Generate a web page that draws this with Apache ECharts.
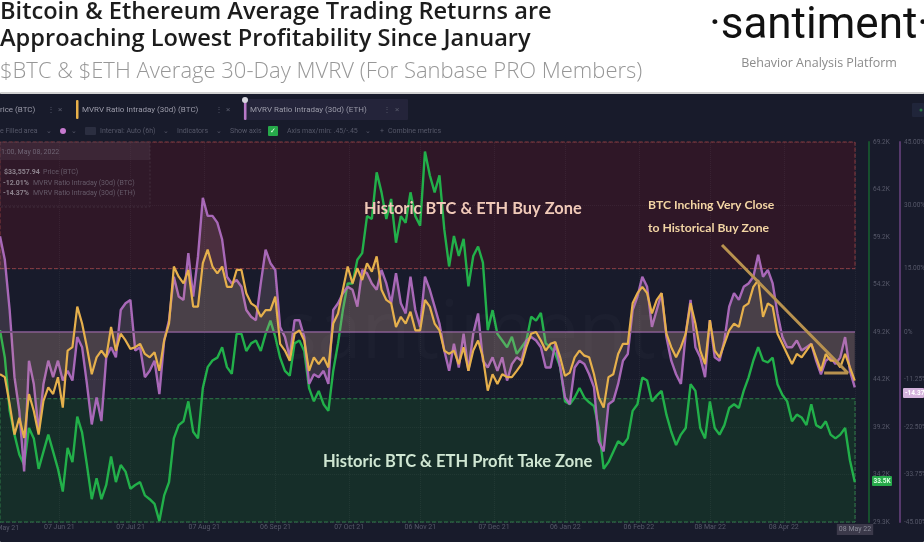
<!DOCTYPE html>
<html>
<head>
<meta charset="utf-8">
<title>Bitcoin & Ethereum MVRV</title>
<script src="https://cdn.jsdelivr.net/npm/echarts@6/dist/echarts.min.js"></script>
<style>
html, body { margin: 0; padding: 0; background: #fff; }
#chart { width: 924px; height: 542px; filter: blur(0.4px); }
</style>
</head>
<body>
<div id="chart"></div>
<script>
// one sample every 48.8h, starting at startDate
var startDate = '2021-05-13';
var endDate = '2022-05-08';
var sampleHours = 48.8;

// price (BTC), in thousands of dollars
var priceBtc = [
    49.4, 46.5, 40.9, 38.4, 36.3, 35.2, 39.1, 38.0, 34.8, 36.6, 38.4, 36.6, 34.8, 32.4, 37.0, 35.5, 40.3, 38.6, 35.2, 31.6,
    33.8, 31.6, 33.1, 36.1, 33.4, 35.2, 34.5, 32.7, 33.1, 33.4, 32.0, 31.6, 31.1, 29.3, 32.0, 33.4, 38.0, 39.4, 39.8, 41.9,
    38.7, 38.0, 43.3, 45.5, 46.2, 46.5, 47.6, 45.5, 44.8, 49.0, 49.0, 47.2, 48.0, 48.3, 47.2, 49.0, 50.4, 48.7, 46.5, 45.1,
    44.6, 48.0, 48.3, 47.2, 43.3, 41.9, 43.0, 41.6, 40.9, 45.1, 48.0, 51.5, 54.3, 54.3, 56.8, 57.5, 61.4, 61.1, 66.0, 63.9,
    61.1, 63.2, 58.6, 61.4, 60.7, 63.9, 61.4, 60.4, 68.2, 65.7, 63.9, 65.7, 60.0, 56.1, 59.3, 57.2, 59.0, 54.0, 57.2, 58.2,
    56.5, 49.4, 51.5, 49.0, 48.3, 47.6, 48.7, 46.9, 47.6, 48.3, 50.8, 50.4, 51.2, 48.0, 47.6, 46.9, 45.5, 41.9, 41.6, 42.3,
    43.3, 42.3, 41.8, 41.4, 39.1, 34.8, 35.5, 36.6, 37.7, 37.3, 38.0, 40.9, 41.6, 44.4, 44.1, 41.9, 42.5, 43.0, 40.5, 38.7,
    37.3, 38.4, 39.1, 43.7, 43.0, 39.1, 38.0, 41.9, 39.1, 38.4, 39.4, 41.2, 41.6, 41.2, 43.0, 44.4, 46.2, 47.6, 46.2, 46.0,
    46.5, 43.7, 42.6, 41.9, 39.8, 40.5, 40.2, 39.4, 41.6, 39.4, 39.1, 39.8, 38.4, 38.0, 38.4, 39.1, 35.7, 33.4
];

// MVRV intraday 30d (BTC), percent
var mvrvBtc = [
    -10, -10.7, -17.1, -24.3, -20.3, -25.1, -14.7, -18.7, -24.3, -16.3, -13.1, -14.7, -10.7, -17.9, -4.4, -3.6, 6, 2, -3.6, -10,
    -6, -4.4, -6, 1.2, -4.4, -0.4, -2, -4, -3.6, -2.8, -5.2, -6, -4.8, -9.2, -2, 2, 15.5, 13.1, 11.5, 14.7,
    6, 6, 16.3, 19.5, 15.5, 13.9, 15.5, 10.7, 10.7, 14.7, 14.7, 9.2, 6.8, 6, 3.6, 5.2, 5.2, 8.4, -2.8, -4.4,
    -6.8, -0.4, 0.4, -2, -9.2, -6, -7.6, -6, -8.4, 2, 4.4, 10, 15.5, 11.5, 15.1, 12.3, 16.3, 14.3, 17.9, 10,
    7.6, 6.8, 1.2, 3.6, 2, 4.8, 0.4, 0.4, 7.6, 6, 2, 0.4, -4.4, -5.2, -4.4, -7.6, -3.6, -9.2, -4.4, -2,
    -6, -13.9, -10, -12.3, -10, -10.7, -10.7, -9.2, -7.6, -3.6, -0.4, 0, -2, -4.4, -2.8, -2.4, -6, -10.4, -9.6, -6,
    -4.4, -5.6, -6, -10, -15.5, -17.9, -10.7, -10, -5.2, -2.8, -2.8, 6.8, 9.2, 10.7, 9.2, 4.4, 7.6, 9.2, -0.4, -3.6,
    -6, -3.6, -0.4, 6.8, 2, -4.4, -7.6, 2.8, -4.4, -6, -2.8, 0.4, 2, 1.2, 6, 6.8, 10.7, 12.3, 3.6, 6.8,
    6, -0.4, -2.8, -5.2, -7.6, -5.2, -6, -4.4, -2.8, -6, -9.2, -5.2, -6.8, -6.8, -8.4, -5.2, -8.4, -11.5
];

// MVRV intraday 30d (ETH), percent
var mvrvEth = [
    22.7, 17.1, 5.2, -10.7, -18.7, -33, -6.8, -12.3, -23.5, -12.3, -6.8, -10.7, -6.8, -11.5, -9.2, -11.5, -1.2, -3.6, -12.3, -21.9,
    -15.5, -21.1, -6, -3.6, -6, 5.2, 6.8, 7.6, -4.4, -3.6, -10.7, -9.2, -6.8, -14.7, -2, 2.8, 13.1, 8.4, 7.6, 18.7,
    8.4, 17.9, 31.8, 27.5, 27.5, 25.9, 21.9, 13.1, 11.5, 12.3, 10.7, 5.2, 3.6, 2.8, 11.5, 19.5, 16.3, 14.7, 1.2, -1.2,
    -6, 2.8, 2.8, -1.2, -12.3, -10, -10.7, -9.2, -12.3, 5.2, 6.8, 9.2, 10.7, 10, 6, 14.7, 13.9, 11.5, 10, 14.7,
    11.5, 6.8, 13.9, 6.8, 4.4, 13.1, 5.2, 1.2, 13.1, 10, 6, 2, -4.4, -9.2, -2.8, -8.4, -0.4, -9.2, -0.4, 4.4,
    -6.8, -8.4, -6, -9.2, -6, -11.5, -7.6, -6, -6.8, -2, -1.2, -2, -3.6, -8.4, -8.4, -2.8, -8.4, -15.5, -17.1, -8.4,
    -6.8, -7.6, -10, -13.1, -25.9, -28.3, -17.1, -16.3, -12.3, -6.8, -5.2, 5.2, 8.4, 13.1, 10.7, 1.2, 5.2, 9.2, -1.2, -6.8,
    -10, -12.3, -0.4, 7.6, -3.6, -6, -10.7, 2.8, -6, -6.8, -2, 6, 9.2, 7.6, 10.7, 11.5, 13.1, 18.3, 13.1, 14.7,
    11.5, 4.4, -1.2, -3.6, -3.6, -2, -4.4, -3.6, -2.8, -6.8, -10, -6.8, -6, -7.6, -6, -1.2, -9.2, -13.1
];

var xTickDates = ['2021-06-07', '2021-07-07', '2021-08-07', '2021-09-06', '2021-10-07', '2021-11-06', '2021-12-07', '2022-01-06', '2022-02-06', '2022-03-08', '2022-04-08', '2022-05-08'];
var xTickLabels = ['07 Jun 21', '07 Jul 21', '07 Aug 21', '06 Sep 21', '07 Oct 21', '06 Nov 21', '07 Dec 21', '06 Jan 22', '06 Feb 22', '08 Mar 22', '08 Apr 22', '08 May 22'];

var percentTicks = [45, 30, 15, 0, -11.25, -22.5, -33.75, -45];
var percentLabels = ['45.00%', '30.00%', '15.00%', '0%', '-11.25%', '-22.50%', '-33.75%', '-45.00%'];
var priceTicks = [69.2, 64.2, 59.2, 54.2, 49.2, 44.2, 39.2, 34.2, 29.2];
var priceLabels = ['69.2K', '64.2K', '59.2K', '54.2K', '49.2K', '44.2K', '39.2K', '34.2K', '29.3K'];

var buyZone = [15, 45];
var profitZone = [-45, -15.8];

var trendDates = ['2022-03-13', '2022-05-05', '2022-04-25'];
var trendValues = [20.6, -9.7, -9.7];

function toPairs(values) {
    var start = Date.parse(startDate);
    return values.map(function (v, i) {
        return [start + i * sampleHours * 3600000, v];
    });
}

var xTickTimes = xTickDates.map(function (d) { return Date.parse(d); });

// everything around the plot that is only text and chrome
function txt(x, y, text, font, color, align) {
    return {
        type: 'text', z: 100, silent: true,
        style: { x: x, y: y, text: text, font: font, fill: color, align: align || 'left', verticalAlign: 'middle' }
    };
}
function box(x, y, w, h, color, z, stroke) {
    return {
        type: 'rect', z: z === undefined ? 100 : z, silent: true,
        shape: { x: x, y: y, width: w, height: h, r: 1 },
        style: { fill: color, stroke: stroke || null, lineDash: stroke ? [2, 2] : null }
    };
}

var headFont = '600 23.6px "Open Sans"';
var smallFont = '7px Roboto';
var dim = '#565869';
var tab = '#9a9aa8';

var decorations = [
    // dark panel
    box(0, 93, 924, 449, '#181b2b', -10),
    box(0, 92, 924, 2, '#d0d0d0', -9),

    // header
    txt(0, 12, 'Bitcoin & Ethereum Average Trading Returns are', headFont, '#1c1c1c'),
    txt(0, 39, 'Approaching Lowest Profitability Since January', headFont, '#1c1c1c'),
    txt(0, 72, '$BTC & $ETH Average 30-Day MVRV (For Sanbase PRO Members)', '300 22px "Open Sans"', '#979797'),
    txt(819, 27, '·santiment·', '400 44px Roboto', '#111111', 'center'),
    txt(819, 63, 'Behavior Analysis Platform', '12.5px "Open Sans"', '#8b8b8b', 'center'),

    // tabs
    box(243, 99, 165, 21, '#24243a'),
    txt(0, 110, 'rice (BTC)', '8px Roboto', tab),
    txt(47, 110, '⋮', '8px Roboto', dim),
    txt(58, 110, '×', '8px Roboto', dim),
    box(76, 100, 2.5, 19, '#e8b04a'),
    txt(82, 110, 'MVRV Ratio Intraday (30d) (BTC)', '8px Roboto', tab),
    txt(215, 110, '⋮', '8px Roboto', dim),
    txt(226, 110, '×', '8px Roboto', dim),
    box(244, 100, 2.5, 20, '#b878c8'),
    { type: 'circle', z: 101, silent: true, shape: { cx: 245, cy: 100, r: 3 }, style: { fill: '#d8d8e0' } },
    txt(250, 110, 'MVRV Ratio Intraday (30d) (ETH)', '8px Roboto', tab),
    txt(383, 110, '⋮', '8px Roboto', dim),
    txt(395, 110, '×', '8px Roboto', dim),
    box(912, 103, 12, 14, '#20253a'),
    { type: 'circle', z: 101, silent: true, shape: { cx: 921, cy: 110, r: 1.5 }, style: { fill: '#2b7a45' } },

    // toolbar
    txt(0, 131, 'e Filled area', smallFont, dim),
    txt(46, 131, '⌄', smallFont, dim),
    { type: 'circle', z: 101, silent: true, shape: { cx: 63, cy: 131, r: 3 }, style: { fill: '#c77ad0' } },
    txt(71, 131, '⌄', smallFont, dim),
    box(85, 127, 11, 8, '#2b2e40'),
    txt(100, 131, 'Interval: Auto (6h)', smallFont, dim),
    txt(163, 131, '⌄', smallFont, dim),
    txt(177, 131, 'Indicators', smallFont, dim),
    txt(216, 131, '⌄', smallFont, dim),
    txt(230, 131, 'Show axis', smallFont, dim),
    box(268, 126, 10, 10, '#26a94a'),
    txt(270, 131, '✓', smallFont, '#e8ffe8'),
    txt(287, 131, 'Axis max/min: .45/-.45', smallFont, dim),
    txt(365, 131, '⌄', smallFont, dim),
    txt(380, 131, '+', smallFont, dim),
    txt(388, 131, 'Combine metrics', smallFont, dim),

    // hover box from the screenshot
    box(0, 142, 150, 65, 'rgba(60,42,58,0.12)', 60, '#43303f'),
    box(0, 142, 150, 18, 'rgba(90,70,85,0.3)', 60),
    txt(1, 152, '1:00, May 08, 2022', smallFont, '#6f6474'),
    txt(4, 172, '$33,557.94', 'bold 7px Roboto', '#8d838e'),
    txt(43, 172, 'Price (BTC)', smallFont, '#665a69'),
    txt(3, 183, '-12.01%', 'bold 7px Roboto', '#8d838e'),
    txt(33, 183, 'MVRV Ratio Intraday (30d) (BTC)', smallFont, '#665a69'),
    txt(3, 193, '-14.37%', 'bold 7px Roboto', '#8d838e'),
    txt(33, 193, 'MVRV Ratio Intraday (30d) (ETH)', smallFont, '#665a69'),

    // watermark
    txt(478, 335, 'santiment.', '80px "Open Sans"', 'rgba(255,255,255,0.02)', 'center'),

    // annotations
    txt(364, 209, 'Historic BTC & ETH Buy Zone', 'bold 16.4px Lato', '#f0c9b8'),
    txt(323, 462, 'Historic BTC & ETH Profit Take Zone', 'bold 16.5px Lato', '#cfe6d2'),
    txt(648, 205, 'BTC Inching Very Close', 'bold 12.2px Lato', '#f3d5a4'),
    txt(648, 228, 'to Historical Buy Zone', 'bold 12.2px Lato', '#f3d5a4'),

    // current value tags and the cut-off first date
    box(872, 476, 20, 10, '#26a94a'),
    txt(882, 481.5, '33.5K', 'bold 6.5px Roboto', '#d8ffe0', 'center'),
    box(903, 388, 21, 10, '#d4b3dc'),
    txt(905, 393.5, '-14.37%', 'bold 6.5px Roboto', '#ffffff'),
    txt(3, 528, '07 May 21', smallFont, dim, 'center')
];

// faint dotted grid, one line per tick
var gridLines = xTickTimes.map(function (t) { return { xAxis: t }; })
    .concat(percentTicks.map(function (v) { return { yAxis: v }; }));

var myChart = echarts.init(document.getElementById('chart'));

var option = {
    backgroundColor: '#ffffff',
    animation: false,
    graphic: decorations,
    grid: { left: 0, right: 69, top: 142, height: 380, outerBoundsMode: 'none' },
    xAxis: {
        type: 'value',
        min: Date.parse(startDate),
        max: Date.parse(endDate),
        axisLine: { show: false },
        axisTick: { show: false },
        splitLine: { show: false },
        axisLabel: {
            customValues: xTickTimes,
            color: dim,
            fontSize: 7,
            fontFamily: 'Roboto',
            margin: 2,
            hideOverlap: false,
            formatter: function (value) {
                var i = xTickTimes.indexOf(value);
                if (i === xTickTimes.length - 1) return '{last|' + xTickLabels[i] + '}';
                return xTickLabels[i];
            },
            rich: {
                last: { backgroundColor: '#3b394a', color: '#8a8a98', fontSize: 7, padding: [2, 2] }
            }
        }
    },
    yAxis: [{
        type: 'value',
        position: 'right',
        offset: 45,
        min: -45,
        max: 45,
        axisLine: { show: true, lineStyle: { color: '#56396c', width: 2 } },
        axisTick: { show: false },
        splitLine: { show: false },
        axisLabel: {
            customValues: percentTicks,
            color: dim,
            fontSize: 6.5,
            fontFamily: 'Roboto',
            margin: 4,
            formatter: function (value) { return percentLabels[percentTicks.indexOf(value)]; }
        }
    }, {
        type: 'value',
        position: 'right',
        offset: 14,
        min: 29.2,
        max: 69.2,
        axisLine: { show: true, lineStyle: { color: '#17502e', width: 2 } },
        axisTick: { show: false },
        splitLine: { show: false },
        axisLabel: {
            customValues: priceTicks,
            color: dim,
            fontSize: 6.5,
            fontFamily: 'Roboto',
            margin: 4,
            formatter: function (value) { return priceLabels[priceTicks.indexOf(value)]; }
        }
    }],
    series: [{
        name: 'Zones',
        type: 'line',
        data: [],
        z: 1,
        markArea: {
            silent: true,
            data: [
                [{ yAxis: buyZone[0], itemStyle: { color: '#2f1727', borderColor: '#8a3b3f', borderWidth: 1, borderType: 'dashed' } }, { yAxis: buyZone[1] }],
                [{ yAxis: profitZone[0], itemStyle: { color: '#162e29', borderColor: '#2f7a48', borderWidth: 1, borderType: 'dashed' } }, { yAxis: profitZone[1] }]
            ]
        },
        markLine: {
            silent: true,
            symbol: 'none',
            label: { show: false },
            lineStyle: { color: 'rgba(255,255,255,0.05)', width: 1, type: 'dotted' },
            data: gridLines
        }
    }, {
        name: 'Price (BTC)',
        type: 'line',
        yAxisIndex: 1,
        data: toPairs(priceBtc),
        showSymbol: false,
        z: 3,
        lineStyle: { color: '#22b04a', width: 2.4 }
    }, {
        name: 'MVRV Ratio Intraday (30d) (ETH)',
        type: 'line',
        data: toPairs(mvrvEth),
        showSymbol: false,
        z: 4,
        lineStyle: { color: '#a868b8', width: 2.4 },
        areaStyle: { origin: 0, color: 'rgba(205,160,175,0.26)' }
    }, {
        name: 'MVRV Ratio Intraday (30d) (BTC)',
        type: 'line',
        data: toPairs(mvrvBtc),
        showSymbol: false,
        z: 5,
        lineStyle: { color: '#e6b04c', width: 2.2 },
        areaStyle: { origin: 0, color: 'rgba(230,180,120,0.14)' },
        markLine: {
            silent: true,
            symbol: 'none',
            label: { show: false },
            lineStyle: { color: '#6c4c7c', width: 2, type: 'solid' },
            data: [{ yAxis: 0 }]
        }
    }, {
        name: 'Trend',
        type: 'line',
        data: trendDates.map(function (d, i) { return [Date.parse(d), trendValues[i]]; }),
        showSymbol: false,
        z: 6,
        lineStyle: { color: '#b8924f', width: 3 }
    }]
};
myChart.setOption(option);
</script>
</body>
</html>
